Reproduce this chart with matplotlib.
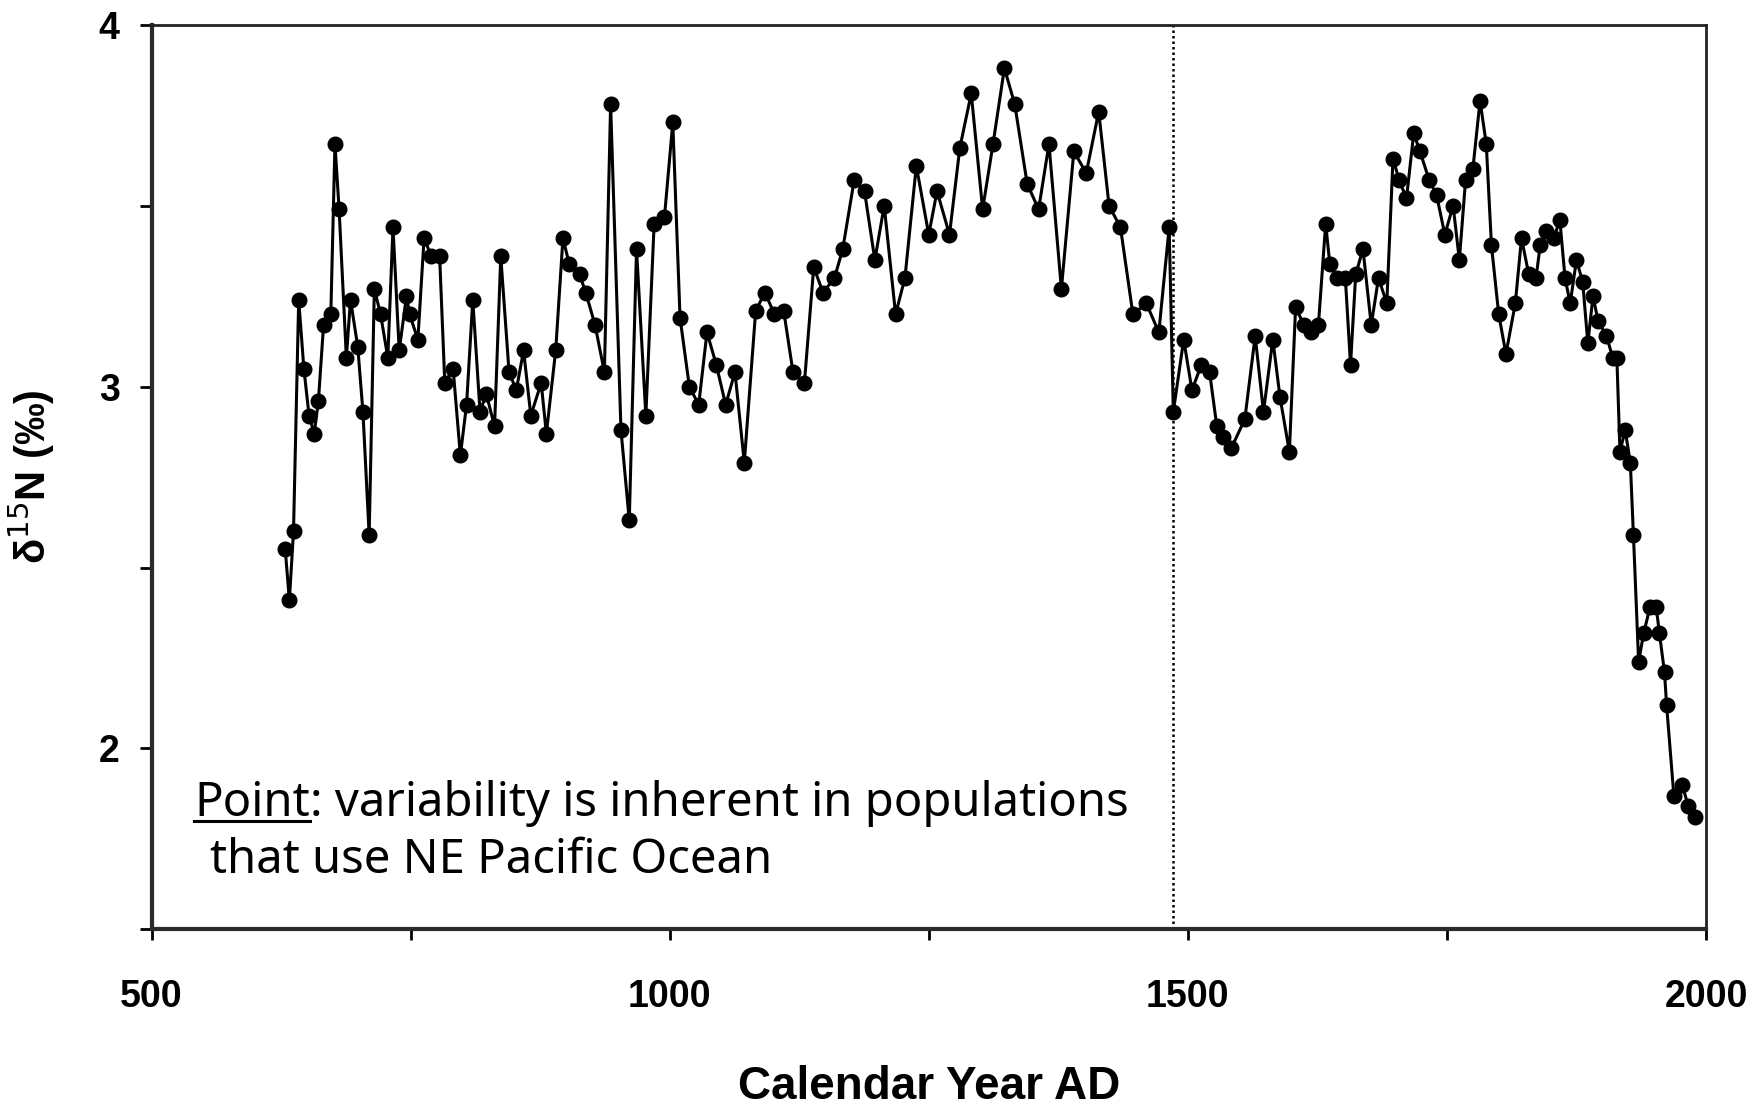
import matplotlib.pyplot as plt
from matplotlib.lines import Line2D

# sediment core d15N record, NE Pacific
years = [629, 633, 637, 642, 647, 652, 657, 661, 666, 673, 677, 681, 688, 692, 699, 704, 710,
         715, 721, 728, 733, 739, 746, 749, 757, 763, 770, 778, 783, 791, 798, 804, 810, 817,
         823, 831, 837, 845, 852, 859, 866, 876, 881, 890, 897, 903, 913, 919, 928, 937, 943,
         953, 961, 968, 977, 985, 995, 1003, 1010, 1019, 1028, 1036, 1045, 1054, 1063, 1072,
         1083, 1092, 1101, 1110, 1119, 1130, 1139, 1148, 1159, 1167, 1178, 1188, 1198, 1207,
         1218, 1227, 1238, 1250, 1258, 1270, 1280, 1291, 1302, 1312, 1323, 1333, 1345, 1356,
         1366, 1378, 1390, 1402, 1414, 1424, 1435, 1447, 1460, 1472, 1482, 1486, 1496, 1504,
         1513, 1521, 1528, 1534, 1542, 1555, 1565, 1573, 1582, 1589, 1598, 1604, 1612, 1619,
         1626, 1633, 1637, 1644, 1652, 1657, 1662, 1669, 1677, 1684, 1692, 1698, 1704, 1711,
         1718, 1724, 1733, 1740, 1748, 1756, 1762, 1768, 1775, 1782, 1788, 1793, 1800, 1807,
         1816, 1822, 1829, 1836, 1840, 1846, 1853, 1859, 1864, 1869, 1875, 1881, 1886, 1891,
         1896, 1904, 1910, 1914, 1917, 1922, 1927, 1930, 1935, 1940, 1946, 1952, 1955, 1960,
         1962, 1969, 1977, 1983, 1989]
d15n = [2.55, 2.41, 2.60, 3.24, 3.05, 2.92, 2.87, 2.96, 3.17, 3.20, 3.67, 3.49, 3.08, 3.24,
        3.11, 2.93, 2.59, 3.27, 3.20, 3.08, 3.44, 3.10, 3.25, 3.20, 3.13, 3.41, 3.36, 3.36,
        3.01, 3.05, 2.81, 2.95, 3.24, 2.93, 2.98, 2.89, 3.36, 3.04, 2.99, 3.10, 2.92, 3.01,
        2.87, 3.10, 3.41, 3.34, 3.31, 3.26, 3.17, 3.04, 3.78, 2.88, 2.63, 3.38, 2.92, 3.45,
        3.47, 3.73, 3.19, 3.00, 2.95, 3.15, 3.06, 2.95, 3.04, 2.79, 3.21, 3.26, 3.20, 3.21,
        3.04, 3.01, 3.33, 3.26, 3.30, 3.38, 3.57, 3.54, 3.35, 3.50, 3.20, 3.30, 3.61, 3.42,
        3.54, 3.42, 3.66, 3.81, 3.49, 3.67, 3.88, 3.78, 3.56, 3.49, 3.67, 3.27, 3.65, 3.59,
        3.76, 3.50, 3.44, 3.20, 3.23, 3.15, 3.44, 2.93, 3.13, 2.99, 3.06, 3.04, 2.89, 2.86,
        2.83, 2.91, 3.14, 2.93, 3.13, 2.97, 2.82, 3.22, 3.17, 3.15, 3.17, 3.45, 3.34, 3.30,
        3.30, 3.06, 3.31, 3.38, 3.17, 3.30, 3.23, 3.63, 3.57, 3.52, 3.70, 3.65, 3.57, 3.53,
        3.42, 3.50, 3.35, 3.57, 3.60, 3.79, 3.67, 3.39, 3.20, 3.09, 3.23, 3.41, 3.31, 3.30,
        3.39, 3.43, 3.41, 3.46, 3.30, 3.23, 3.35, 3.29, 3.12, 3.25, 3.18, 3.14, 3.08, 3.08,
        2.82, 2.88, 2.79, 2.59, 2.24, 2.32, 2.39, 2.39, 2.32, 2.21, 2.12, 1.87, 1.90, 1.84,
        1.81]

regime_shift = 1486

xticks = [500, 1000, 1500, 2000]
yticks = [2, 3, 4]

fig = plt.figure(figsize=(17.6, 11.14), dpi=100)
ax = fig.add_axes([0.0861, 0.1657, 0.8832, 0.8121])

ax.plot(years, d15n, color='black', lw=2.2, marker='o', ms=10.5, mfc='black', mec='black')
ax.axvline(regime_shift, color='black', ls=(0, (1, 1.2)), lw=1.8)

ax.set_xlim(500, 2000)
ax.set_ylim(1.5, 4)
ax.set_xticks(xticks)
ax.set_xticks([750, 1250, 1750], minor=True)
ax.set_yticks(yticks)
ax.set_yticks([1.5, 2.5, 3.5], minor=True)

tick_font = {'family': 'Liberation Sans', 'weight': 'bold'}
ax.set_xticklabels([str(t) for t in xticks], fontdict=tick_font, fontsize=27)
ax.set_yticklabels([str(t) for t in yticks], fontdict=tick_font, fontsize=27)
ax.tick_params(axis='x', which='both', direction='out', length=8, width=2, pad=28)
ax.tick_params(axis='y', which='both', direction='out', length=9, width=2, pad=14)

for side in ['left', 'bottom']:
    ax.spines[side].set_linewidth(3)
    ax.spines[side].set_color('#2a2a2a')
for side in ['top', 'right']:
    ax.spines[side].set_linewidth(2)
    ax.spines[side].set_color('#222222')

ax.set_xlabel('Calendar Year AD', fontdict=tick_font, fontsize=33, labelpad=36)
ax.set_ylabel('δ$^{15}$N (‰)', family='Liberation Sans', weight='bold', fontsize=30,
              labelpad=30)

# annotation with underlined first word
note_font = dict(family='Noto Sans', fontsize=34, color='black')
t1 = ax.text(541, 1.814, 'Point', va='baseline', ha='left', **note_font)
ax.annotate(': variability is inherent in populations', xy=(1, 0), xycoords=t1,
            va='bottom', ha='left', **note_font)
ax.text(556, 1.656, 'that use NE Pacific Ocean', va='baseline', ha='left', **note_font)

fig.canvas.draw()
bb = t1.get_window_extent().transformed(fig.transFigure.inverted())
base = ax.transData.transform((0, 1.814))[1]
y_ul = fig.transFigure.inverted().transform((0, base - 5))[1]
fig.add_artist(Line2D([bb.x0, bb.x1], [y_ul, y_ul], color='black', lw=2.2,
                      transform=fig.transFigure))

fig.savefig('out.png', dpi=100)
